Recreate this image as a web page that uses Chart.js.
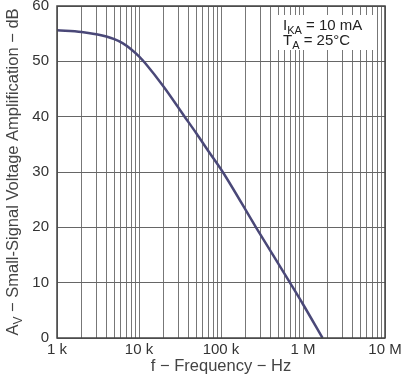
<!DOCTYPE html>
<html>
<head>
<meta charset="utf-8">
<script src="https://cdn.jsdelivr.net/npm/chart.js@4/dist/chart.umd.min.js"></script>
<style>
  html, body { margin: 0; padding: 0; background: #fff; }
  #wrap { width: 401px; height: 377px; }
</style>
</head>
<body>
<div id="wrap"><canvas id="gainChart" width="401" height="377"></canvas></div>
<script>
// frecuencias (Hz) y ganancia (dB)
const frecuencias = [1000, 2000, 3000, 4000, 5000, 6300, 8000, 10000, 12000, 20000, 36000, 50000, 70000, 105000, 267000, 693000, 1000000, 1730000];
const ganancia    = [55.6, 55.3, 54.9, 54.5, 54.0, 53.3, 52.2, 50.9, 49.6, 45.4, 40.0, 37.0, 33.8, 30.0, 20.0, 10.0, 6.1, 0.0];

const etiquetasX = {1000: '1 k', 10000: '10 k', 100000: '100 k', 1000000: '1 M', 10000000: '10 M'};
const tituloX = 'f \u2212 Frequency \u2212 Hz';
const tituloY = ['A', 'V', ' \u2212 Small-Signal Voltage Amplification \u2212 dB'];
const notaLineas = [['I', 'KA', ' = 10 mA'], ['T', 'A', ' = 25\u00B0C']];

const FUENTE = '"Liberation Sans", Arial, sans-serif';

// dibuja texto con subindice
function textoSub(ctx, x, y, partes, size) {
    ctx.font = size + 'px ' + FUENTE;
    ctx.fillText(partes[0], x, y);
    x += ctx.measureText(partes[0]).width;
    ctx.font = Math.round(size * 0.72) + 'px ' + FUENTE;
    ctx.fillText(partes[1], x, y + 4);
    x += ctx.measureText(partes[1]).width;
    ctx.font = size + 'px ' + FUENTE;
    ctx.fillText(partes[2], x, y);
}

const extras = {
    id: 'extras',
    beforeDatasetsDraw(chart) {
        const ctx = chart.ctx;
        const a = chart.chartArea;
        // caja de condiciones
        const bx = a.right - 111, by = a.top + 9;
        ctx.save();
        ctx.fillStyle = '#fff';
        ctx.fillRect(bx, by, 103, 35);
        ctx.fillStyle = '#222';
        ctx.textBaseline = 'alphabetic';
        ctx.textAlign = 'left';
        textoSub(ctx, bx + 9, by + 15, notaLineas[0], 15);
        textoSub(ctx, bx + 9, by + 30, notaLineas[1], 15);
        ctx.restore();
    },
    afterDraw(chart) {
        const ctx = chart.ctx;
        const a = chart.chartArea;
        ctx.save();
        // marco
        ctx.strokeStyle = '#444';
        ctx.lineWidth = 1.5;
        ctx.strokeRect(a.left, a.top, a.right - a.left, a.bottom - a.top);
        // titulo eje Y con subindice
        ctx.translate(18, (a.top + a.bottom) / 2);
        ctx.rotate(-Math.PI / 2);
        ctx.fillStyle = '#444';
        ctx.textBaseline = 'alphabetic';
        const size = 16.5;
        ctx.font = size + 'px ' + FUENTE;
        let w = ctx.measureText(tituloY[0]).width + ctx.measureText(tituloY[2]).width;
        ctx.font = Math.round(size * 0.72) + 'px ' + FUENTE;
        w += ctx.measureText(tituloY[1]).width;
        textoSub(ctx, -w / 2, 0, tituloY, size);
        ctx.restore();
    }
};

const config = {
    type: 'line',
    data: {
        datasets: [{
            data: frecuencias.map((f, i) => ({x: f, y: ganancia[i]})),
            borderColor: '#4a4878',
            borderWidth: 2.5,
            pointRadius: 0,
            cubicInterpolationMode: 'monotone',
            fill: false
        }]
    },
    options: {
        responsive: false,
        animation: false,
        layout: { padding: { top: 6, right: 16, left: 0, bottom: 0 } },
        plugins: { legend: { display: false }, tooltip: { enabled: false } },
        scales: {
            x: {
                type: 'logarithmic',
                min: 1000,
                max: 10000000,
                afterBuildTicks(scale) {
                    const t = [];
                    for (let d = 1000; d < 10000000; d *= 10) {
                        for (let k = 1; k < 10; k++) t.push({value: d * k});
                    }
                    t.push({value: 10000000});
                    scale.ticks = t;
                },
                afterFit(scale) {
                    scale.height = 39;
                    scale.paddingLeft = 0;
                    scale.paddingRight = 0;
                },
                grid: { color: '#777', lineWidth: 1, drawTicks: false },
                border: { display: false },
                ticks: {
                    autoSkip: false,
                    maxRotation: 0,
                    padding: 3,
                    color: '#333',
                    font: { size: 15, family: FUENTE },
                    callback: (v) => etiquetasX[v] || ''
                },
                title: {
                    display: true,
                    text: tituloX,
                    color: '#444',
                    font: { size: 16.5, family: FUENTE },
                    padding: { top: 0, bottom: 1 }
                }
            },
            y: {
                min: 0,
                max: 60,
                afterFit(scale) {
                    scale.width = 57;
                    scale.paddingTop = 0;
                    scale.paddingBottom = 0;
                },
                grid: { color: '#666', lineWidth: 1, drawTicks: false },
                border: { display: false },
                ticks: {
                    stepSize: 10,
                    padding: 8,
                    color: '#333',
                    font: { size: 15, family: FUENTE }
                }
            }
        }
    },
    plugins: [extras]
};

window.graficaGanancia = new Chart(document.getElementById('gainChart').getContext('2d'), config);
</script>
</body>
</html>
